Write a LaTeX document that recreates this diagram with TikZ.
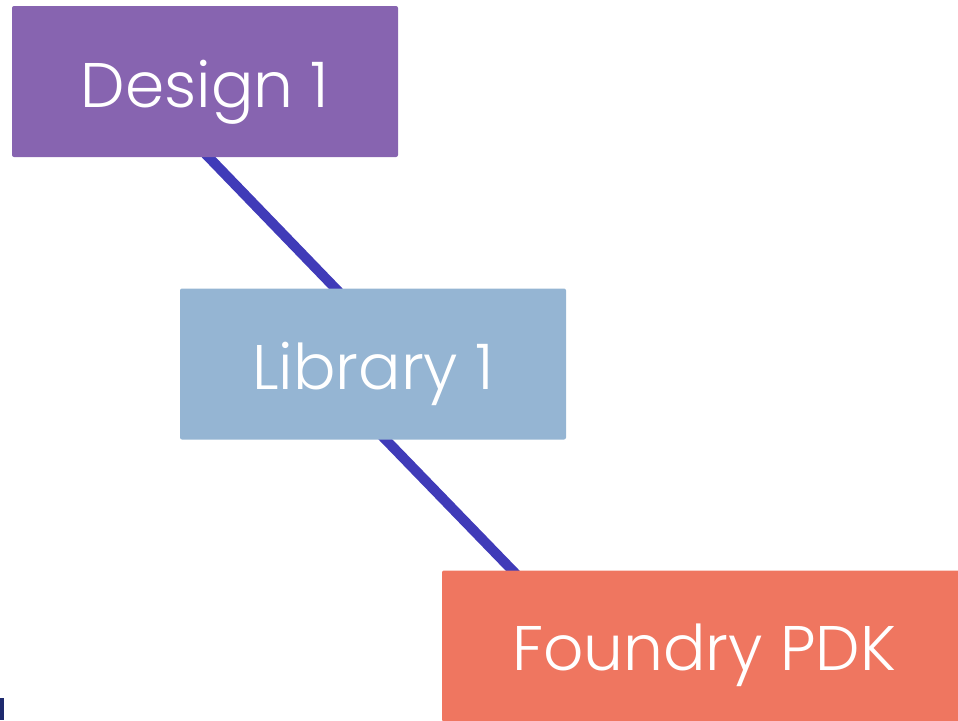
\documentclass[tikz,border=0pt]{standalone}
\usepackage{fontspec}
\IfFontExistsTF{Poppins Light}{\setmainfont{Poppins Light}}{\setmainfont{Poppins}}
\usetikzlibrary{backgrounds,calc}
\definecolor{designpurple}{HTML}{8764B0}
\definecolor{libblue}{HTML}{95B5D3}
\definecolor{pdkcoral}{HTML}{EF7660}
\definecolor{linkblue}{HTML}{403BB8}
\definecolor{marknavy}{HTML}{1E2A6E}
\tikzset{
  block/.style={rectangle,rounded corners=2pt,inner sep=0pt,text=white,
    text height=51pt,text depth=0pt,
    minimum width=386pt,minimum height=151pt,font=\fontsize{63}{70}\selectfont},
  link/.style={draw=linkblue,line width=10pt}
}
\begin{document}
\begin{tikzpicture}[x=1pt,y=-1pt]
                \useasboundingbox (0,0) rectangle (958,720);
                \path (205,81.5) node[block,fill=designpurple] (design) {Design 1};
                \path (373,364) node[block,fill=libblue] (library) {Library 1};
                \path (704,646) node[block,fill=pdkcoral,minimum width=524pt,text height=49pt] (pdk) {Foundry PDK};
                \begin{scope}[on background layer]
                \draw[link] ($(design.south)+(-6,-10)$) -- ($(library.north)+(-28,10)$);
                \draw[link] ($(library.south)+(3,-10)$) -- ($(pdk.north)+(-182,10)$);
                \end{scope}
                \fill[marknavy] (0,698) rectangle (4,720);
              \end{tikzpicture}
\end{document}
